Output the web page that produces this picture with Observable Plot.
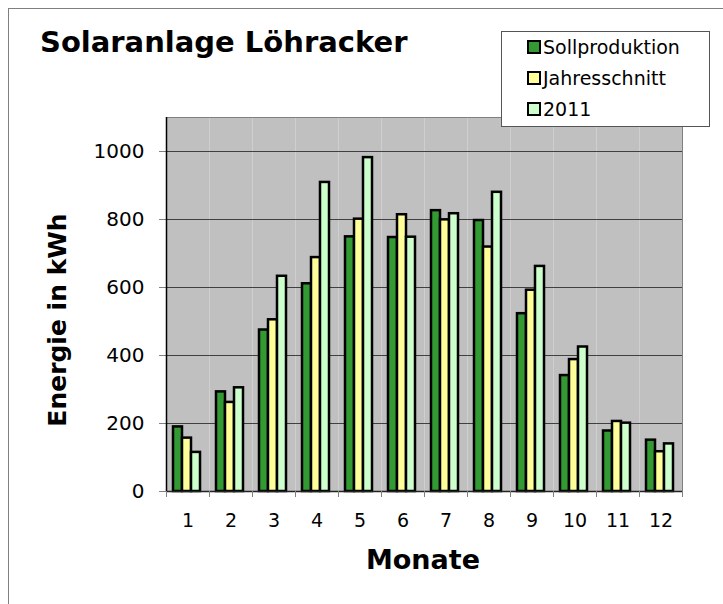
<!DOCTYPE html>
<html>
<head>
<meta charset="utf-8">
<script src="https://cdn.jsdelivr.net/npm/d3@7"></script>
<script src="https://cdn.jsdelivr.net/npm/@observablehq/plot@0.6"></script>
<style>
  html, body { margin: 0; padding: 0; background: #fff; overflow: hidden; }
  #wrap { position: relative; width: 723px; height: 604px; overflow: hidden; font-family: "DejaVu Sans", Verdana, sans-serif; color: #000; }
  #outer { position: absolute; left: 8px; top: 8px; width: 900px; height: 800px; border: 1px solid #808080; box-sizing: border-box; }
  #chart { position: absolute; left: 0; top: 0; }
  #title { position: absolute; left: 40px; top: 28px; font-size: 29px; line-height: 29px; font-weight: bold; white-space: nowrap; }
  #xlabel { position: absolute; left: 273px; width: 300px; top: 546px; text-align: center; font-size: 27px; line-height: 27px; font-weight: bold; }
  #ylabel { position: absolute; left: -92px; width: 300px; top: 307px; text-align: center; font-size: 25px; line-height: 26px; font-weight: bold; transform: rotate(-90deg); white-space: nowrap; }
  #legend { position: absolute; left: 501px; top: 31px; width: 209px; height: 96px; box-sizing: border-box; border: 1px solid #555; background: #fff; padding-left: 25px; }
  .row { height: 32px; display: flex; align-items: center; font-size: 19px; margin-top: -1px; }
  .sw { width: 14px; height: 14px; box-sizing: border-box; border: 2px solid #000; margin-right: 2px; }
</style>
</head>
<body>
<div id="wrap">
  <div id="outer"></div>
  <div id="chart"></div>
  <div id="title">Solaranlage Löhracker</div>
  <div id="legend"></div>
  <div id="ylabel">Energie in kWh</div>
  <div id="xlabel">Monate</div>
</div>
<script>
const months = [1, 2, 3, 4, 5, 6, 7, 8, 9, 10, 11, 12];
const series = ["Sollproduktion", "Jahresschnitt", "2011"];
const sollproduktion = [190, 293, 475, 611, 749, 747, 826, 797, 523, 341, 178, 151];
const jahresschnitt  = [157, 262, 505, 688, 801, 814, 799, 719, 592, 388, 206, 117];
const jahr2011       = [115, 305, 633, 909, 982, 748, 817, 880, 662, 425, 201, 140];
const colors = ["#339933", "#ffff99", "#ccffcc"];
const yTicks = [0, 200, 400, 600, 800, 1000];
const yMax = 1100;

const valuesBySeries = [sollproduktion, jahresschnitt, jahr2011];
const data = [];
months.forEach((m, i) => {
  series.forEach((s, j) => data.push({month: m, series: s, value: valuesBySeries[j][i]}));
});

const W = 723, H = 604;
const mL = 166, mR = 41, mT = 117, mB = 113;
const bw = (W - mL - mR) / months.length;
const plotH = H - mT - mB;

const chart = Plot.plot({
  width: W,
  height: H,
  marginLeft: mL,
  marginRight: mR,
  marginTop: mT,
  marginBottom: mB,
  style: {fontFamily: '"DejaVu Sans", Verdana, sans-serif', color: "#000", background: "transparent", overflow: "visible"},
  fx: {domain: months, padding: 0, axis: null, label: null},
  x: {domain: series, paddingInner: 0, paddingOuter: 0.8, align: 0.45, axis: null, label: null},
  y: {domain: [0, yMax], axis: null, label: null},
  color: {domain: series, range: colors},
  marks: [
    Plot.frame({fill: "#c0c0c0", stroke: "none"}),
    Plot.gridY(yTicks.filter(v => v > 0), {stroke: "#404040", strokeOpacity: 1}),
    Plot.gridY([yMax], {stroke: "#808080", strokeOpacity: 1}),
    Plot.barY(data, {fx: "month", x: "series", y: "value", fill: "series", stroke: "#000", strokeWidth: 2.5}),
    Plot.ruleY([0], {stroke: "#222", strokeWidth: 1.5}),
    Plot.axisY({ticks: yTicks, tickSize: 7, tickPadding: 15, fontSize: 20, stroke: "#808080", tickFormat: d => String(d), label: null}),
    Plot.axisFx({anchor: "bottom", tickSize: 0, tickPadding: 22, fontSize: 19, label: null}),
    Plot.axisFx({anchor: "bottom", ticks: months, tickSize: 6, dx: bw / 2, fill: "none", stroke: "#808080", label: null}),
    Plot.axisFx({anchor: "bottom", ticks: [months[0]], tickSize: 6, dx: -bw / 2, fill: "none", stroke: "#808080", label: null}),
    Plot.axisFx({anchor: "bottom", ticks: [months[0]], tickSize: -plotH, dx: -bw / 2, fill: "none", stroke: "#000", strokeWidth: 1.5, label: null}),
    Plot.axisFx({anchor: "bottom", ticks: [months[months.length - 1]], tickSize: -plotH, dx: bw / 2, fill: "none", stroke: "#808080", label: null})
  ]
});
document.getElementById("chart").appendChild(chart);

const legend = document.getElementById("legend");
series.forEach((s, i) => {
  const row = document.createElement("div");
  row.className = "row";
  const sw = document.createElement("span");
  sw.className = "sw";
  sw.style.background = colors[i];
  const t = document.createElement("span");
  t.textContent = s;
  row.appendChild(sw);
  row.appendChild(t);
  legend.appendChild(row);
});
</script>
</body>
</html>
